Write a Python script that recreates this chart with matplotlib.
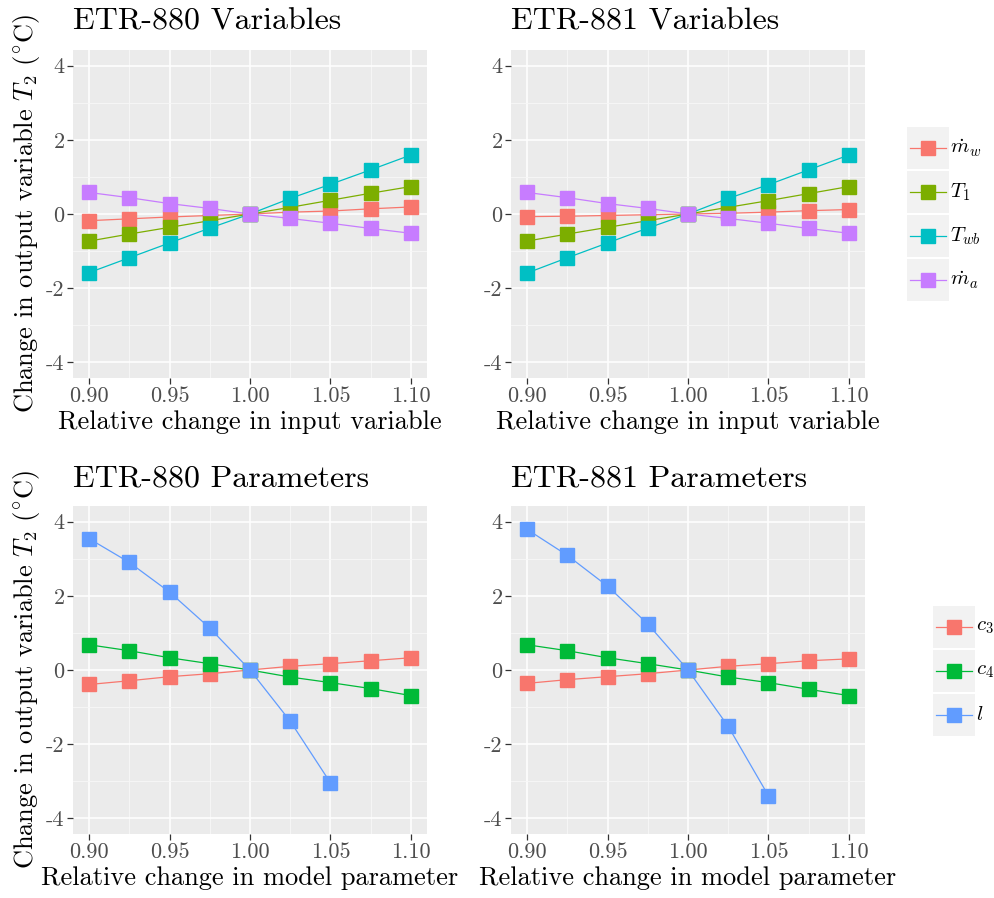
import numpy as np
import matplotlib
matplotlib.use("Agg")
import matplotlib.pyplot as plt

plt.rcParams['font.family'] = ['cmr10', 'DejaVu Serif']
plt.rcParams['mathtext.fontset'] = 'cm'
plt.rcParams['axes.unicode_minus'] = False
plt.rcParams['axes.formatter.use_mathtext'] = True

# data
x = [0.900, 0.925, 0.950, 0.975, 1.000, 1.025, 1.050, 1.075, 1.100]

var_labels = [r'$\dot{m}_w$', r'$T_1$', r'$T_{wb}$', r'$\dot{m}_a$']
var_colors = ['#F8766D', '#7CAE00', '#00BFC4', '#C77CFF']

etr880_mw = [-0.18, -0.13, -0.08, -0.04, 0.0, 0.05, 0.08, 0.14, 0.19]
etr880_t1 = [-0.73, -0.54, -0.36, -0.18, 0.0, 0.18, 0.37, 0.56, 0.74]
etr880_twb = [-1.58, -1.18, -0.78, -0.38, 0.0, 0.42, 0.80, 1.19, 1.59]
etr880_ma = [0.58, 0.44, 0.28, 0.15, 0.0, -0.12, -0.25, -0.39, -0.52]

etr881_mw = [-0.07, -0.06, -0.04, -0.02, 0.0, 0.02, 0.05, 0.09, 0.12]
etr881_t1 = [-0.73, -0.54, -0.36, -0.18, 0.0, 0.18, 0.36, 0.55, 0.74]
etr881_twb = [-1.59, -1.18, -0.78, -0.38, 0.0, 0.42, 0.79, 1.19, 1.59]
etr881_ma = [0.58, 0.44, 0.28, 0.15, 0.0, -0.12, -0.25, -0.39, -0.52]

par_labels = [r'$c_3$', r'$c_4$', r'$l$']
par_colors = ['#F8766D', '#00BA38', '#619CFF']

etr880_c3 = [-0.39, -0.29, -0.18, -0.10, 0.0, 0.10, 0.17, 0.25, 0.33]
etr880_c4 = [0.68, 0.52, 0.33, 0.17, 0.0, -0.19, -0.34, -0.50, -0.69]
etr880_l = [3.54, 2.90, 2.10, 1.13, 0.0, -1.38, -3.04, np.nan, np.nan]

etr881_c3 = [-0.36, -0.26, -0.18, -0.10, 0.0, 0.10, 0.17, 0.25, 0.30]
etr881_c4 = [0.68, 0.52, 0.33, 0.17, 0.0, -0.19, -0.34, -0.52, -0.69]
etr881_l = [3.79, 3.09, 2.26, 1.24, 0.0, -1.52, -3.39, np.nan, np.nan]

panels = [
    ('ETR-880 Variables', [etr880_mw, etr880_t1, etr880_twb, etr880_ma], var_colors,
     'Relative change in input variable'),
    ('ETR-881 Variables', [etr881_mw, etr881_t1, etr881_twb, etr881_ma], var_colors,
     'Relative change in input variable'),
    ('ETR-880 Parameters', [etr880_c3, etr880_c4, etr880_l], par_colors,
     'Relative change in model parameter'),
    ('ETR-881 Parameters', [etr881_c3, etr881_c4, etr881_l], par_colors,
     'Relative change in model parameter'),
]

W, H = 995, 898
fig = plt.figure(figsize=(W / 100, H / 100), dpi=100)

# panel boxes in pixels: left, top, right, bottom
boxes = [(73, 50, 427, 378), (511, 50, 865, 378),
         (73, 506, 427, 834), (511, 506, 865, 834)]

ylab = r'Change in output variable $T_2$ ($^{\circ}$C)'

for i, ((title, series, colors, xlab), (l, t, r, b)) in enumerate(zip(panels, boxes)):
    ax = fig.add_axes([l / W, 1 - b / H, (r - l) / W, (b - t) / H])
    ax.set_facecolor('#EBEBEB')
    for s in ax.spines.values():
        s.set_visible(False)
    ax.set_xlim(0.89, 1.11)
    ax.set_ylim(-4.42, 4.42)
    ax.set_xticks([0.90, 0.95, 1.00, 1.05, 1.10])
    ax.set_xticklabels(['0.90', '0.95', '1.00', '1.05', '1.10'])
    ax.set_yticks([-4, -2, 0, 2, 4])
    ax.set_yticklabels(['-4', '-2', '0', '2', '4'])
    ax.set_xticks([0.925, 0.975, 1.025, 1.075], minor=True)
    ax.set_yticks([-3, -1, 1, 3], minor=True)
    ax.grid(which='major', color='white', lw=1.1)
    ax.grid(which='minor', color='#F7F7F7', lw=0.6)
    ax.set_axisbelow(True)
    ax.tick_params(which='major', length=4, width=0.9, color='#333333',
                   labelcolor='#4D4D4D', labelsize=16, pad=2)
    ax.tick_params(which='minor', length=0)
    for ys, c in zip(series, colors):
        ax.plot(x, ys, color=c, lw=0.9, zorder=2)
    for ys, c in zip(series, colors):
        ax.plot(x, ys, ls='none', marker='s', ms=9.5, mfc=c, mec=c, zorder=3)
    ax.set_xlabel(xlab, fontsize=19, labelpad=3)
    if i % 2 == 0:
        ax.set_ylabel(ylab, fontsize=19, labelpad=3)
    fig.text(l / W, 1 - (t - 20) / H, title, fontsize=23, va='baseline', ha='left')

# legends drawn as little key boxes, ggplot style
def draw_legend(labels, colors, x0, y0, kw=42, kh=42, gap=2):
    for j, (lab, c) in enumerate(zip(labels, colors)):
        top = y0 + j * (kh + gap)
        kax = fig.add_axes([x0 / W, 1 - (top + kh) / H, kw / W, kh / H])
        kax.set_facecolor('#F2F2F2')
        kax.set_xlim(0, 1)
        kax.set_ylim(0, 1)
        kax.set_xticks([])
        kax.set_yticks([])
        for s in kax.spines.values():
            s.set_visible(False)
        kax.plot([0.07, 0.93], [0.5, 0.5], color=c, lw=0.9)
        kax.plot([0.5], [0.5], ls='none', marker='s', ms=9.5, mfc=c, mec=c)
        fig.text((x0 + kw + 1) / W, 1 - (top + kh / 2) / H, lab, fontsize=15,
                 va='center', ha='left')

draw_legend(var_labels, var_colors, 907, 127)
draw_legend(par_labels, par_colors, 933, 606)

fig.savefig('out.png', dpi=100)
